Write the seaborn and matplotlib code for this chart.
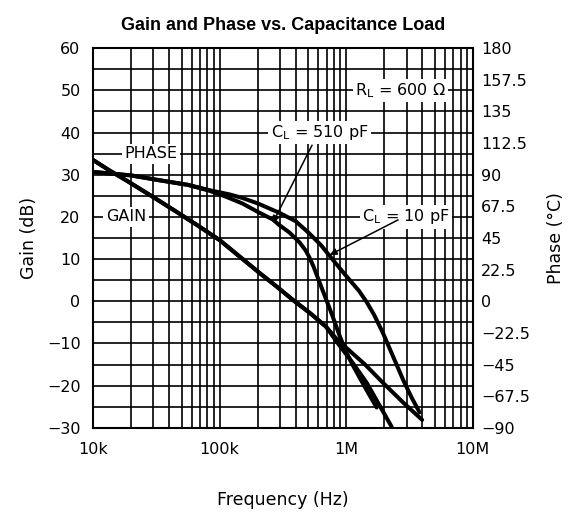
import numpy as np
import matplotlib
matplotlib.use("Agg")
import matplotlib.pyplot as plt
from matplotlib.ticker import FixedLocator, NullFormatter
import seaborn as sns

# values
gain_freq_10pf = [10e3, 13.5e3, 18.2e3, 28.8e3, 45.7e3, 67.6e3, 100e3, 148e3, 209e3, 282e3,
                  380e3, 513e3, 692e3, 832e3, 1.0e6, 1.41e6, 1.95e6, 2.82e6, 3.98e6]
gain_db_10pf = [33.5, 31.0, 28.7, 25.0, 21.2, 17.9, 14.5, 10.3, 6.6, 3.5,
                0.3, -2.7, -6.0, -8.8, -11.0, -15.0, -19.3, -24.0, -28.1]

gain_freq_510pf = [10e3, 13.5e3, 18.2e3, 28.8e3, 45.7e3, 67.6e3, 100e3, 148e3, 209e3, 282e3,
                   380e3, 513e3, 692e3, 851e3, 1.12e6, 1.45e6, 1.82e6, 2.29e6]
gain_db_510pf = [33.5, 31.0, 28.7, 25.0, 21.2, 17.9, 14.5, 10.3, 6.6, 3.5,
                 0.3, -2.7, -6.0, -9.8, -14.5, -19.3, -24.5, -29.8]

phase_freq_10pf = [10e3, 20e3, 33.9e3, 56.2e3, 83.2e3, 120e3, 151e3, 200e3, 295e3, 398e3,
                   501e3, 631e3, 776e3, 1.0e6, 1.26e6, 1.45e6, 1.66e6, 1.95e6, 2.34e6,
                   2.82e6, 3.31e6, 3.8e6]
phase_deg_10pf = [92, 89.5, 86, 82.8, 79, 76, 73.5, 69.6, 63, 57,
                  49, 40, 30, 18, 7.5, -0.5, -9.6, -22.5, -39,
                  -56, -69, -79]

phase_freq_510pf = [10e3, 20e3, 33.9e3, 56.2e3, 83.2e3, 112e3, 151e3, 200e3, 263e3, 295e3,
                    355e3, 427e3, 479e3, 513e3, 550e3, 589e3, 631e3, 676e3, 776e3, 891e3,
                    1.0e6, 1.12e6, 1.29e6, 1.51e6, 1.74e6]
phase_deg_510pf = [92, 89.5, 86, 82.8, 78.6, 74.4, 69.6, 63.6, 58.2, 54.3,
                   49, 42, 36, 31, 25, 18, 11, 4, -10, -25,
                   -36, -45, -55, -66, -75.5]

freq_ticks = [1e4, 1e5, 1e6, 1e7]
freq_labels = ["10k", "100k", "1M", "10M"]
gain_ticks = list(range(-30, 61, 10))
phase_ticks = [-90, -67.5, -45, -22.5, 0, 22.5, 45, 67.5, 90, 112.5, 135, 157.5, 180]
phase_labels = ["\u221290", "\u221267.5", "\u221245", "\u221222.5", "0", "22.5", "45", "67.5", "90",
                "112.5", "135", "157.5", "180"]

sns.set_style("white")
plt.rcParams["font.family"] = ["DejaVu Sans"]
plt.rcParams["text.color"] = "black"
plt.rcParams["axes.labelcolor"] = "black"
plt.rcParams["xtick.color"] = "black"
plt.rcParams["ytick.color"] = "black"

fig = plt.figure(figsize=(5.71, 5.18), dpi=100)
ax = fig.add_axes([0.163, 0.174, 0.665, 0.733])
ax.set_xscale("log")
ax.set_xlim(1e4, 1e7)
ax.set_ylim(-30, 60)

# grid
ax.xaxis.set_minor_locator(FixedLocator([m * 10 ** d for d in range(4, 7) for m in range(2, 10)]))
ax.xaxis.set_minor_formatter(NullFormatter())
ax.set_xticks(freq_ticks)
ax.set_xticklabels(freq_labels)
ax.set_yticks(gain_ticks)
ax.set_yticks(np.arange(-25, 60, 10), minor=True)
ax.grid(which="both", color="black", lw=1.2)
ax.set_axisbelow(True)
ax.tick_params(which="both", length=0, labelsize=11.5)
ax.tick_params(axis="y", pad=9)
ax.tick_params(axis="x", pad=10)
for s in ax.spines.values():
    s.set_color("black")
    s.set_linewidth(1.5)

lw = 2.9
sns.lineplot(x=gain_freq_10pf, y=gain_db_10pf, ax=ax, color="black", lw=lw)
sns.lineplot(x=gain_freq_510pf, y=gain_db_510pf, ax=ax, color="black", lw=lw)

ax2 = ax.twinx()
ax2.set_ylim(-90, 180)
ax2.set_yticks(phase_ticks)
ax2.set_yticklabels(phase_labels)
ax2.tick_params(length=0, labelsize=11.5, pad=6)
sns.lineplot(x=phase_freq_10pf, y=phase_deg_10pf, ax=ax2, color="black", lw=lw)
sns.lineplot(x=phase_freq_510pf, y=phase_deg_510pf, ax=ax2, color="black", lw=lw)
for s in ax2.spines.values():
    s.set_visible(False)

box = dict(boxstyle="square,pad=0.15", fc="white", ec="none")
fs = 11.5
ax.text(10 ** 4.46, 35, "PHASE", ha="center", va="center", fontsize=fs, bbox=box)
ax.text(10 ** 4.26, 20, "GAIN", ha="center", va="center", fontsize=fs, bbox=box)
ax.text(10 ** 6.43, 50, r"R$_\mathrm{L}$ = 600 Ω", ha="center", va="center", fontsize=fs, bbox=box)
ax.text(10 ** 5.79, 40, r"C$_\mathrm{L}$ = 510 pF", ha="center", va="center", fontsize=fs, bbox=box)
ax.text(10 ** 6.47, 20, r"C$_\mathrm{L}$ = 10 pF", ha="center", va="center", fontsize=fs, bbox=box)

arrow = dict(arrowstyle="-|>", color="black", lw=1.1, mutation_scale=10, shrinkA=0, shrinkB=0)
ax.annotate("", xy=(10 ** 5.42, 18.6), xytext=(10 ** 5.73, 37), arrowprops=arrow)
ax.annotate("", xy=(10 ** 5.87, 11), xytext=(10 ** 6.41, 19.3), arrowprops=arrow)

ax.set_title("Gain and Phase vs. Capacitance Load", fontsize=13, fontweight="bold",
             family="Liberation Sans", pad=13)
ax.set_xlabel("Frequency (Hz)", fontsize=12.5, labelpad=25)
ax.set_ylabel("Gain (dB)", fontsize=12.5, labelpad=6)
ax2.set_ylabel("Phase (°C)", fontsize=12.5, labelpad=12)

fig.savefig("out.png", dpi=100)
